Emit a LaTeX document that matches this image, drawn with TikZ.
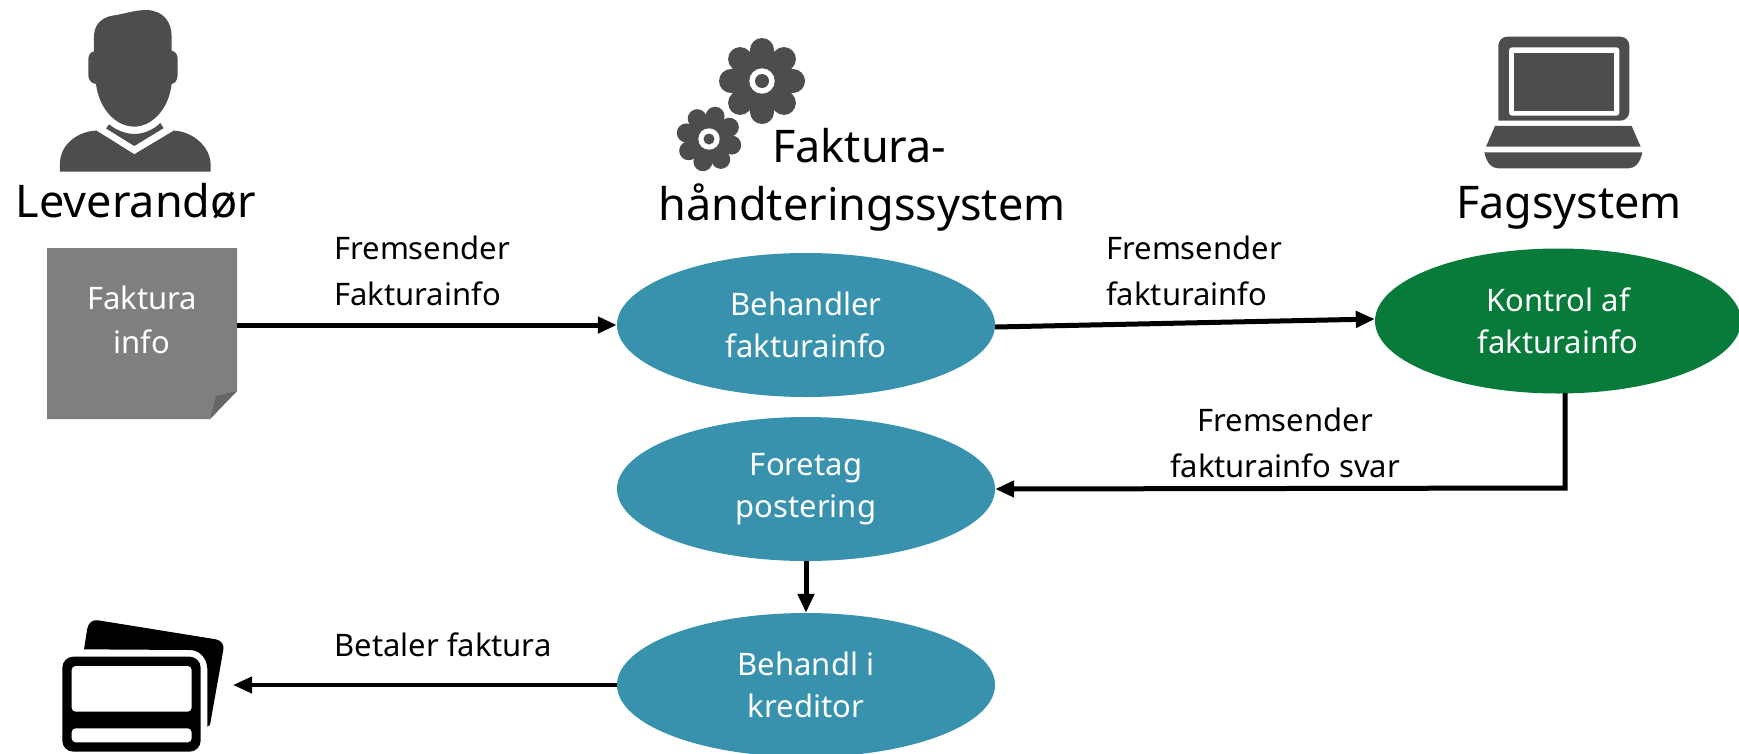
\documentclass[tikz,border=0pt]{standalone}
\usepackage{fontspec}
\setmainfont{Noto Sans}
\usetikzlibrary{shapes.geometric,arrows.meta}
\definecolor{teal}{HTML}{3892AE}
\definecolor{fag}{HTML}{087B3A}
\definecolor{icon}{HTML}{4D4D4D}
\definecolor{paper}{HTML}{7F7F7F}
\definecolor{foldc}{HTML}{666666}
\tikzset{
  oval/.style={ellipse,draw=none,fill=#1,minimum width=378pt,minimum height=144pt,inner sep=0pt,text=white,align=center,font=\fontsize{31}{42}\selectfont},
  conn/.style={line width=5pt,-{Triangle[length=19pt,width=16pt]},shorten >=0pt},
  lbl/.style={inner sep=0pt,align=center,font=\fontsize{31}{46}\selectfont,text=black},
  head/.style={inner sep=0pt,anchor=base,font=\fontsize{45}{54}\selectfont,text=black},
}
\begin{document}
\begin{tikzpicture}[x=1pt,y=-1pt]
\useasboundingbox (0,0) rectangle (1739,753);
\clip (0,0) rectangle (1739,753);
% person
\begin{scope}[x=0.3333pt,y=-0.3333pt,fill=icon]
\fill (282,155) -- (282,105) .. controls (285,65) and (315,48) .. (350,45) .. controls (385,38) and (410,30) .. (440,30) .. controls (490,32) and (515,65) .. (515,110) -- (515,152) .. controls (528,155) and (533,165) .. (533,178) -- (533,225) .. controls (533,240) and (525,250) .. (515,252) .. controls (505,335) and (450,380) .. (403,380) .. controls (350,380) and (298,330) .. (288,252) .. controls (272,250) and (265,238) .. (265,225) -- (265,178) .. controls (265,165) and (272,155) .. (282,155) -- cycle;
\fill (180,515) -- (180,490) .. controls (180,430) and (240,392) .. (290,392) -- (403,462) -- (520,392) .. controls (570,392) and (632,435) .. (632,495) -- (632,515) -- cycle;
\fill (327,373) .. controls (350,392) and (380,402) .. (403,402) .. controls (430,402) and (460,390) .. (481,369) -- (491,385) -- (403,438) -- (318,386) -- cycle;
\fill[white] (290,392) -- (403,452) -- (403,440) -- (318,386) -- cycle;
\fill[white] (520,392) -- (403,452) -- (403,440) -- (491,385) -- cycle;
\fill[white] (297,395) -- (403,462) -- (515,395) -- (518,392) -- (403,447) -- (300,392) -- cycle;
\end{scope}
% gears
\foreach \cx/\cy/\R/\r/\a/\w/\k in {762/81/31/12/0/12.7/7,709/139/23.5/9.5/15/10.7/5.5}{
  \fill[icon] (\cx,\cy) circle ({\R+1});
  \foreach \t in {0,45,...,315}{\fill[icon] ({\cx+\R*cos(\t+\a)},{\cy+\R*sin(\t+\a)}) circle (\r);}
  \fill[white] (\cx,\cy) circle (\w);
  \fill[icon] (\cx,\cy) circle (\k);
}
% laptop
\begin{scope}[shift={(1450,20)},x=0.3333pt,y=-0.3333pt]
\fill[icon,rounded corners=9pt] (145,302) -- (145,50) -- (538,50) -- (538,302) [sharp corners] -- cycle;
\fill[white,rounded corners=3pt] (177,82) rectangle (508,287);
\fill[icon] (192,98) rectangle (492,272);
\fill[icon] (135,318) -- (545,318) -- (572,380) -- (108,380) -- cycle;
\fill[icon] (103,397) -- (577,397) .. controls (570,430) and (555,445) .. (535,445) -- (145,445) .. controls (125,445) and (110,430) .. (103,397) -- cycle;
\end{scope}
% cards
\begin{scope}[shift={(30,600)},x=0.3333pt,y=-0.3333pt]
\fill[black] (162,148) -- (172,85) .. controls (176,68) and (188,58) .. (205,61) -- (558,118) .. controls (575,122) and (583,135) .. (580,150) -- (540,375) -- (532,380) -- (532,205) .. controls (530,170) and (505,150) .. (480,150) -- cycle;
\fill[black,rounded corners=11pt] (97,170) rectangle (512,455);
\fill[white,rounded corners=4pt] (125,198) rectangle (485,335);
\fill[white,rounded corners=4pt] (125,385) rectangle (485,427);
\node[inner sep=0pt,minimum size=0pt] (card) at (400,312) {};
\end{scope}
\coordinate (cardend) at (233,685);
% note
\fill[paper] (47,248) -- (237,248) -- (237,391) -- (210,419) -- (47,419) -- cycle;
\fill[foldc] (216,396) -- (237,391) -- (210,419) -- cycle;
\node[inner sep=0pt,minimum width=190pt,minimum height=171pt,align=center,text=white,font=\fontsize{31}{44}\selectfont] (note) at (142,320) {Faktura\\info};
\coordinate (noteout) at (237,325);
% ellipses
\node[oval=teal] (beh) at (806,325) {Behandler\\fakturainfo};
\node[oval=teal] (for) at (806,489) {Foretag\\postering};
\node[oval=teal] (kre) at (806,685) {Behandl i\\kreditor};
\node[ellipse,fill=fag,minimum width=366pt,minimum height=145pt,inner sep=0pt,text=white,align=center,font=\fontsize{31}{42}\selectfont] (kon) at (1558,321) {Kontrol af\\fakturainfo};
% titles
\node[head] (lev) at (136,217) {Leverandør};
\node[head,anchor=base west] (fak1) at (772,162) {Faktura-};
\node[head] (fak2) at (862,220) {håndteringssystem};
\node[head] (fag) at (1569,218) {Fagsystem};
% labels
\node[lbl,align=left] (l1) at (422,271) {Fremsender\\Fakturainfo};
\node[lbl,align=left] (l2) at (1194,271) {Fremsender\\fakturainfo};
\node[lbl] (l3) at (1285,443) {Fremsender\\fakturainfo svar};
\node[lbl] (l4) at (443,645) {Betaler faktura};
% connectors
\draw[conn] (noteout) -- (beh.west);
\draw[conn] ([yshift=-2pt]beh.east) -- ([yshift=2pt]kon.west);
\coordinate (kb) at (1565,393);
\coordinate (corner) at (1565,488);
\draw[conn] (kb) -- (corner) -- (for.east);
\draw[conn] (for.south) -- (kre.north);
\draw[line width=4pt,-{Triangle[length=19pt,width=16pt]}] (kre.west) -- (cardend);
\end{tikzpicture}
\end{document}
